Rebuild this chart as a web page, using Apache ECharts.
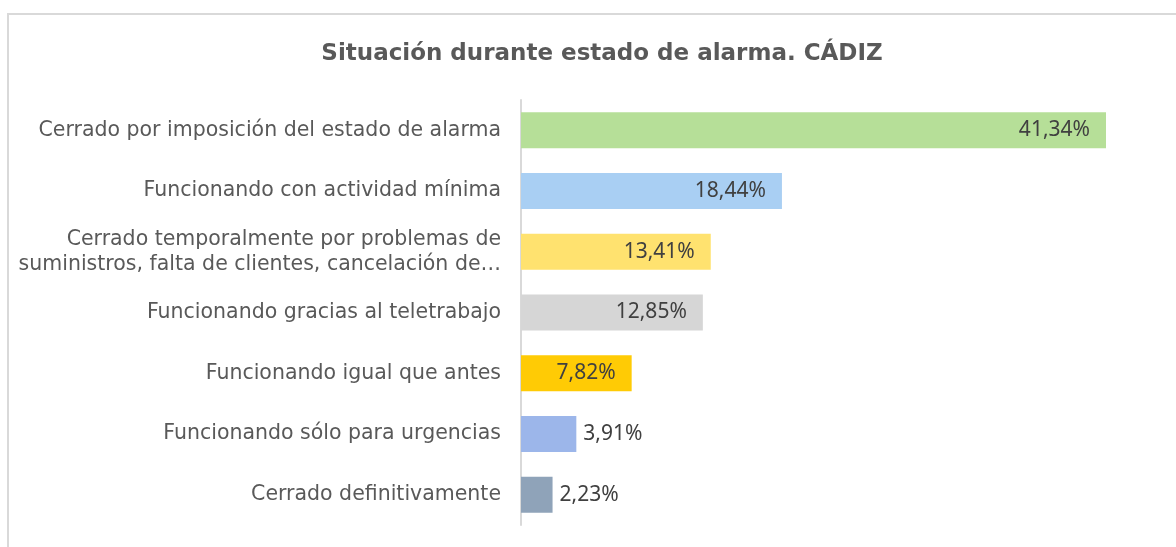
<!DOCTYPE html>
<html>
<head>
<meta charset="utf-8">
<script src="https://cdn.jsdelivr.net/npm/echarts@6/dist/echarts.min.js"></script>
<style>
  html, body { margin: 0; padding: 0; background: #fff; overflow: hidden; }
  .frame {
    position: absolute;
    left: 7px;
    top: 13px;
    width: 1300px;
    height: 700px;
    border-top: 2px solid #d9d9d9;
    border-left: 2px solid #d9d9d9;
  }
  #chart { position: absolute; left: 0; top: 0; width: 1176px; height: 547px; }
</style>
</head>
<body>
<div class="frame"></div>
<div id="chart"></div>
<script>
const categories = [
  "Cerrado por imposición del estado de alarma",
  "Funcionando con actividad mínima",
  "Cerrado temporalmente por problemas de\nsuministros, falta de clientes, cancelación de…",
  "Funcionando gracias al teletrabajo",
  "Funcionando igual que antes",
  "Funcionando sólo para urgencias",
  "Cerrado definitivamente",
];
const values = [41.34, 18.44, 13.41, 12.85, 7.82, 3.91, 2.23];
const barColors = ["#b6df98", "#a9cff3", "#ffe26f", "#d6d6d6", "#ffcb05", "#9cb6ea", "#8fa3b9"];
// labels of the small bars sit outside the bar end
const labelInside = [true, true, true, true, true, false, false];

const myChart = echarts.init(document.getElementById("chart"));

const option = {
  animation: false,
  title: {
    text: "Situación durante estado de alarma. CÁDIZ",
    left: 597,
    textAlign: "center",
    top: 38,
    textStyle: {
      fontFamily: "DejaVu Sans",
      fontWeight: "bold",
      fontSize: 23,
      color: "#595959",
    },
  },
  grid: {
    left: 521,
    right: 70,
    top: 100,
    bottom: 22,
  },
  xAxis: {
    type: "value",
    min: 0,
    max: 41.34,
    show: false,
  },
  yAxis: {
    type: "category",
    inverse: true,
    data: categories,
    axisLine: { show: true, lineStyle: { color: "#d9d9d9", width: 2 } },
    axisTick: { show: false },
    axisLabel: {
      margin: 20,
      fontFamily: "DejaVu Sans",
      fontSize: 20.5,
      color: "#595959",
      lineHeight: 25,
    },
  },
  series: [
    {
      type: "bar",
      barWidth: 36,
      data: values.map((v, i) => ({
        value: v,
        itemStyle: { color: barColors[i] },
        label: {
          show: true,
          position: labelInside[i] ? "insideRight" : "right",
          distance: labelInside[i] ? 16 : 7,
        },
      })),
      label: {
        fontFamily: "Noto Sans",
        fontSize: 21,
        color: "#404040",
        formatter: (p) => p.value.toFixed(2).replace(".", ",") + "%",
      },
    },
  ],
};

myChart.setOption(option);
</script>
</body>
</html>
